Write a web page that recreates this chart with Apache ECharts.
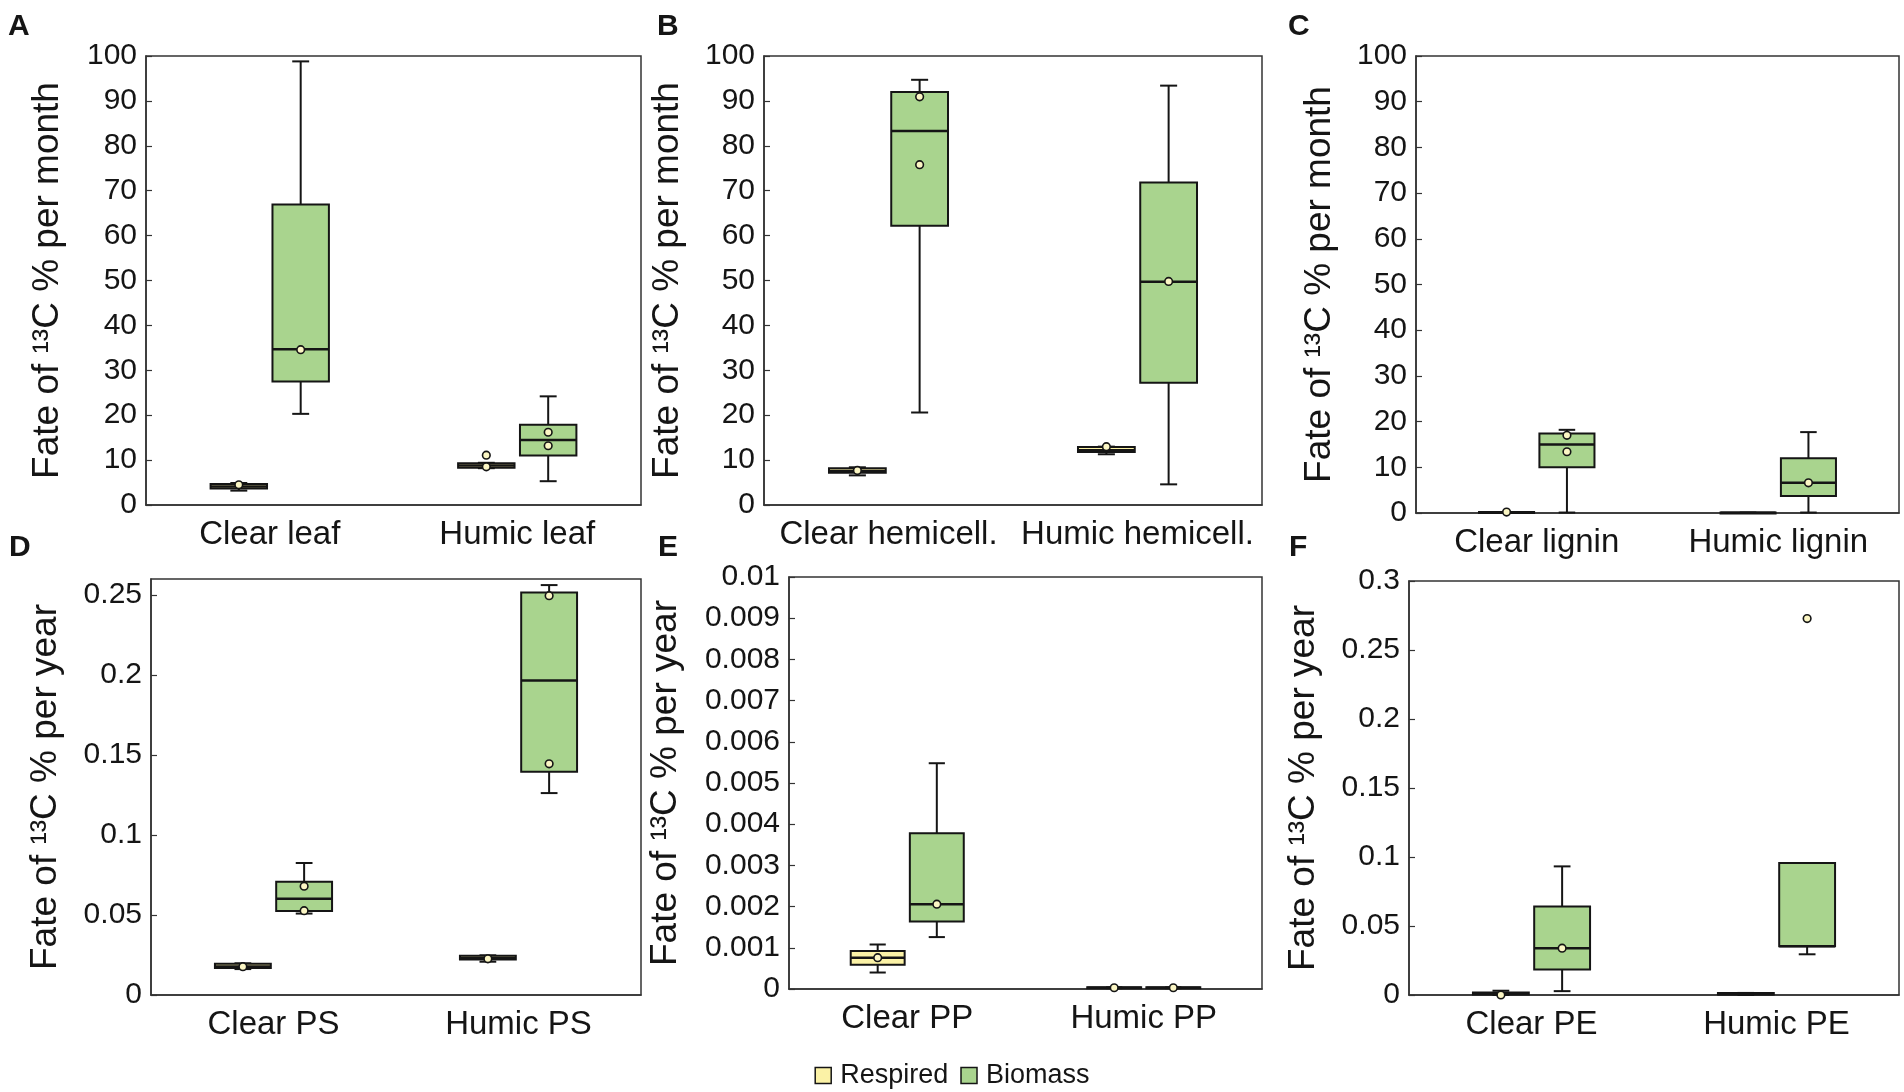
<!DOCTYPE html>
<html>
<head>
<meta charset="utf-8">
<script src="https://cdn.jsdelivr.net/npm/echarts@6/dist/echarts.min.js"></script>
<style>
  html, body { margin: 0; padding: 0; background: #fff; }
  #chart { width: 1904px; height: 1092px; }
</style>
</head>
<body>
<div id="chart"></div>
<script>
// box stats are [min, Q1, median, Q3, max], one row per category
const leafCats = ['Clear leaf', 'Humic leaf'];
const leafRespired = [[3.2, 3.7, 4.1, 4.7, 4.9], [8.2, 8.3, 8.8, 9.3, 9.4]];
const leafBiomass = [[20.3, 27.5, 34.7, 66.9, 98.8], [5.3, 11.0, 14.5, 17.9, 24.2]];
const leafRespiredPts = [[4.5], [11.1, 8.5]];
const leafBiomassPts = [[34.6], [16.2, 13.2]];

const hemiCats = ['Clear hemicell.', 'Humic hemicell.'];
const hemiRespired = [[6.6, 7.2, 7.6, 8.2, 8.4], [11.3, 11.8, 12.2, 12.9, 13.0]];
const hemiBiomass = [[20.6, 62.2, 83.3, 92.0, 94.7], [4.6, 27.2, 49.7, 71.8, 93.4]];
const hemiRespiredPts = [[7.7], [13.0]];
const hemiBiomassPts = [[90.9, 75.8], [49.8]];

const ligninCats = ['Clear lignin', 'Humic lignin'];
const ligninRespired = [[0, 0, 0.1, 0.2, 0.2], [0, 0, 0.05, 0.1, 0.1]];
const ligninBiomass = [[0.1, 10.0, 15.0, 17.4, 18.2], [0.1, 3.7, 6.6, 12.0, 17.7]];
const ligninRespiredPts = [[0.2], []];
const ligninBiomassPts = [[17.0, 13.4], [6.6]];

const psCats = ['Clear PS', 'Humic PS'];
const psRespired = [[0.0162, 0.0168, 0.0178, 0.0196, 0.0198], [0.0208, 0.0222, 0.0232, 0.0246, 0.0248]];
const psBiomass = [[0.0509, 0.0525, 0.0602, 0.0708, 0.0825], [0.1262, 0.1395, 0.1965, 0.2515, 0.2562]];
const psRespiredPts = [[0.0177], [0.0226]];
const psBiomassPts = [[0.068, 0.0527], [0.2496, 0.1445]];

const ppCats = ['Clear PP', 'Humic PP'];
const ppRespired = [[0.0004, 0.00059, 0.00076, 0.00092, 0.00108], [0.00002, 0.00002, 0.00003, 0.00004, 0.00004]];
const ppBiomass = [[0.00126, 0.00164, 0.00206, 0.00378, 0.00548], [0.00002, 0.00002, 0.00003, 0.00004, 0.00004]];
const ppRespiredPts = [[0.00076], [0.00003]];
const ppBiomassPts = [[0.00206], [0.00003]];

const peCats = ['Clear PE', 'Humic PE'];
const peRespired = [[0, 0.0003, 0.0009, 0.0018, 0.0031], [0, 0.0003, 0.0008, 0.0015, 0.0015]];
const peBiomass = [[0.0028, 0.0185, 0.0339, 0.0642, 0.0932], [0.0295, 0.0354, 0.0354, 0.0956, 0.0956]];
const peRespiredPts = [[0], []];
const peBiomassPts = [[0.0339], [0.2728]];

const monthTitle = 'Fate of ¹³C % per month';
const yearTitle = 'Fate of ¹³C % per year';

const font = "'Liberation Sans', Arial, sans-serif";
const respiredFill = '#fbf2a6';
const biomassFill = '#a9d48e';
const ink = '#151515';

const panels = [
  {letter: 'A', lx: 8, ly: 12, cats: leafCats, r: leafRespired, b: leafBiomass, rp: leafRespiredPts, bp: leafBiomassPts,
   title: monthTitle, max: 100, interval: 10, grid: {left: 146, top: 56, width: 495, height: 449}, gap: 80},
  {letter: 'B', lx: 657, ly: 12, cats: hemiCats, r: hemiRespired, b: hemiBiomass, rp: hemiRespiredPts, bp: hemiBiomassPts,
   title: monthTitle, max: 100, interval: 10, grid: {left: 764, top: 56, width: 498, height: 449}, gap: 78},
  {letter: 'C', lx: 1288, ly: 12, cats: ligninCats, r: ligninRespired, b: ligninBiomass, rp: ligninRespiredPts, bp: ligninBiomassPts,
   title: monthTitle, max: 100, interval: 10, grid: {left: 1416, top: 56, width: 483, height: 457}, gap: 78},
  {letter: 'D', lx: 9, ly: 533, cats: psCats, r: psRespired, b: psBiomass, rp: psRespiredPts, bp: psBiomassPts,
   title: yearTitle, max: 0.26, interval: 0.05, grid: {left: 151, top: 579, width: 490, height: 416}, gap: 87},
  {letter: 'E', lx: 658, ly: 533, cats: ppCats, r: ppRespired, b: ppBiomass, rp: ppRespiredPts, bp: ppBiomassPts,
   title: yearTitle, max: 0.01, interval: 0.001, grid: {left: 789, top: 577, width: 473, height: 412}, gap: 105},
  {letter: 'F', lx: 1289, ly: 533, cats: peCats, r: peRespired, b: peBiomass, rp: peRespiredPts, bp: peBiomassPts,
   title: yearTitle, max: 0.3, interval: 0.05, grid: {left: 1409, top: 581, width: 490, height: 414}, gap: 87}
];

// box + whiskers drawn at an offset inside the category band
function boxRenderer(offset, fill) {
  return function (params, api) {
    const cat = api.value(0);
    const band = api.size([1, 0])[0];
    const x = api.coord([cat, 0])[0] + offset * band;
    const w = band * 0.228;
    const cap = w * 0.3;
    const yOf = v => api.coord([cat, v])[1];
    const yMin = yOf(api.value(1)), yQ1 = yOf(api.value(2)), yMed = yOf(api.value(3));
    const yQ3 = yOf(api.value(4)), yMax = yOf(api.value(5));
    const ln = {stroke: ink, lineWidth: 2};
    return {
      type: 'group',
      children: [
        {type: 'line', shape: {x1: x, y1: yMin, x2: x, y2: yQ1}, style: ln},
        {type: 'line', shape: {x1: x, y1: yQ3, x2: x, y2: yMax}, style: ln},
        {type: 'line', shape: {x1: x - cap / 2, y1: yMin, x2: x + cap / 2, y2: yMin}, style: ln},
        {type: 'line', shape: {x1: x - cap / 2, y1: yMax, x2: x + cap / 2, y2: yMax}, style: ln},
        {type: 'rect', shape: {x: x - w / 2, y: yQ3, width: w, height: Math.max(yQ1 - yQ3, 1)},
         style: {fill: fill, stroke: ink, lineWidth: 2}},
        {type: 'line', shape: {x1: x - w / 2, y1: yMed, x2: x + w / 2, y2: yMed}, style: {stroke: ink, lineWidth: 2.5}}
      ]
    };
  };
}

function pointRenderer(offset) {
  return function (params, api) {
    const cat = api.value(0);
    const band = api.size([1, 0])[0];
    const p = api.coord([cat, api.value(1)]);
    return {
      type: 'circle',
      shape: {cx: p[0] + offset * band, cy: p[1], r: 3.8},
      style: {fill: '#fbf6c4', stroke: ink, lineWidth: 1.6}
    };
  };
}

const grids = [], xAxes = [], yAxes = [], series = [], graphics = [];

panels.forEach((p, i) => {
  grids.push(Object.assign({show: true, borderColor: '#333', borderWidth: 1.5, backgroundColor: 'transparent'}, p.grid));
  xAxes.push({
    type: 'category', gridIndex: i, data: p.cats,
    axisLine: {lineStyle: {color: '#333', width: 1.5}},
    axisTick: {show: false},
    axisLabel: {fontSize: 33, color: ink, fontFamily: font, margin: 13, interval: 0}
  });
  yAxes.push({
    type: 'value', gridIndex: i, min: 0, max: p.max, interval: p.interval,
    name: p.title, nameLocation: 'middle', nameGap: p.gap,
    nameTextStyle: {fontSize: 37, color: ink, fontFamily: font},
    axisLine: {show: true, lineStyle: {color: '#333', width: 1.5}},
    axisTick: {show: true, inside: true, length: 6, lineStyle: {color: '#333', width: 1.2}},
    splitLine: {show: false},
    axisLabel: {fontSize: 30, color: ink, fontFamily: font, margin: 9, showMaxLabel: p.max !== 0.26}
  });

  const groups = [
    {name: 'Respired', stats: p.r, pts: p.rp, offset: -0.125, fill: respiredFill},
    {name: 'Biomass', stats: p.b, pts: p.bp, offset: 0.125, fill: biomassFill}
  ];
  groups.forEach(g => {
    series.push({
      type: 'custom', name: g.name, xAxisIndex: i, yAxisIndex: i,
      itemStyle: {color: g.fill, borderColor: ink, borderWidth: 1.5},
      renderItem: boxRenderer(g.offset, g.fill),
      encode: {x: 0, y: [1, 2, 3, 4, 5]},
      data: g.stats.map((s, k) => [k].concat(s)),
      z: 2
    });
    const ptData = [];
    g.pts.forEach((arr, k) => arr.forEach(v => ptData.push([k, v])));
    series.push({
      type: 'custom', name: g.name + ' points', xAxisIndex: i, yAxisIndex: i,
      renderItem: pointRenderer(g.offset),
      encode: {x: 0, y: 1},
      data: ptData,
      z: 3
    });
  });

  graphics.push({
    type: 'text', left: p.lx, top: p.ly,
    style: {text: p.letter, font: 'bold 30px ' + font, fill: ink}
  });
});

const chart = echarts.init(document.getElementById('chart'));
chart.setOption({
  backgroundColor: '#fff',
  animation: false,
  grid: grids,
  xAxis: xAxes,
  yAxis: yAxes,
  series: series,
  graphic: graphics,
  legend: {
    left: 'center', top: 1057,
    icon: 'rect', itemWidth: 16, itemHeight: 16, itemGap: 12,
    textStyle: {fontSize: 27, color: ink, fontFamily: font, padding: [0, 0, 0, 4]},
    data: [
      {name: 'Respired', itemStyle: {color: respiredFill, borderColor: ink, borderWidth: 1.5}},
      {name: 'Biomass', itemStyle: {color: biomassFill, borderColor: ink, borderWidth: 1.5}}
    ]
  }
});
</script>
</body>
</html>
